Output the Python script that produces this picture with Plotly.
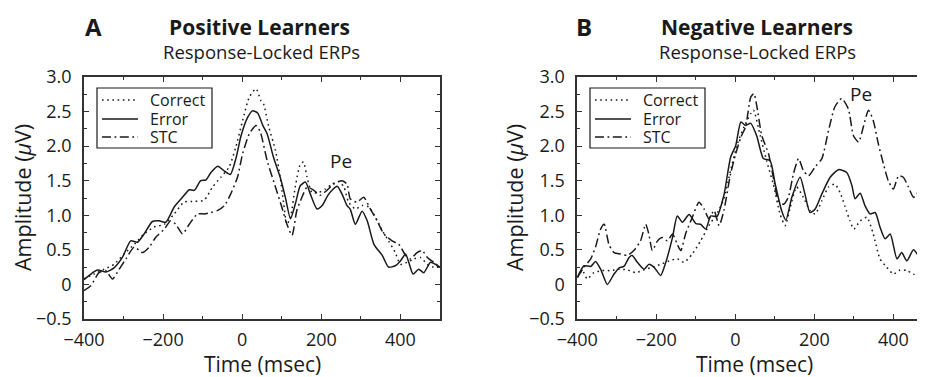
import plotly.graph_objects as go

# ---------------- data ----------------
# Panel A: Positive Learners
pos_err_t = [-400, -366, -345, -324, -303, -282, -265, -248, -227, -210, -193, -172, -151, -134, -121, -105, -92, -79, -62, -45, -30, -16, -3, 14, 26, 39, 52,
             63, 79, 96, 109, 122, 134, 147, 160, 172, 189, 202, 219, 240, 252, 265, 273, 286, 303, 316, 333, 354, 370, 387, 400, 413, 421, 432, 446, 459, 476, 489, 500]
pos_err_v = [0.07, 0.21, 0.18, 0.24, 0.39, 0.63, 0.61, 0.73, 0.91, 0.92, 0.90, 1.12, 1.26, 1.37, 1.36, 1.50, 1.51, 1.62, 1.71, 1.64, 1.59, 1.82, 2.15, 2.42, 2.51, 2.48, 2.30,
             2.18, 1.84, 1.55, 1.26, 0.95, 1.16, 1.43, 1.48, 1.31, 1.09, 1.14, 1.31, 1.42, 1.31, 1.14, 1.09, 0.87, 1.06, 0.92, 0.58, 0.42, 0.25, 0.27, 0.34, 0.44, 0.32, 0.15, 0.22, 0.17, 0.32, 0.29, 0.25]

pos_cor_t = [-400, -375, -349, -324, -299, -273, -248, -223, -197, -172, -147, -121, -96, -75, -54, -33, -16, 1, 18, 35, 47,
             54, 67, 84, 96, 105, 113, 122, 134, 147, 155, 164, 176, 193, 210, 227, 244, 257, 269, 286, 303, 320, 337, 354, 370, 387, 400, 417, 434, 451, 468, 484, 500]
pos_cor_v = [0.08, 0.15, 0.22, 0.29, 0.44, 0.58, 0.73, 0.83, 0.87, 1.02, 1.19, 1.20, 1.22, 1.41, 1.55, 1.70, 1.99, 2.37, 2.71, 2.83, 2.66,
             2.61, 2.28, 1.94, 1.55, 1.16, 0.87, 0.97, 1.41, 1.74, 1.77, 1.55, 1.33, 1.33, 1.38, 1.45, 1.49, 1.41, 1.19, 1.09, 1.14, 1.12, 0.97, 0.78, 0.63, 0.46, 0.29, 0.32, 0.37, 0.39, 0.29, 0.25, 0.27]

pos_stc_t = [-400, -383, -362, -345, -328, -311, -294, -273, -252, -235, -219, -197, -181, -168, -151, -134, -113, -96, -79, -62, -45, -29, -12, 1, 18, 35, 46,
             63, 84, 100, 113, 126, 138, 151, 164, 181, 197, 214, 231, 252, 265, 273, 290, 307, 324, 341, 358, 379, 396, 413, 425, 442, 455, 468, 484, 500]
pos_stc_v = [-0.09, -0.02, 0.17, 0.20, 0.08, 0.22, 0.37, 0.54, 0.46, 0.54, 0.68, 0.80, 0.92, 0.87, 0.73, 0.87, 1.02, 1.02, 1.04, 1.07, 1.14, 1.31, 1.55, 1.89, 2.18, 2.30, 2.20,
             1.79, 1.41, 1.12, 0.87, 0.71, 1.07, 1.26, 1.41, 1.36, 1.29, 1.36, 1.45, 1.50, 1.45, 1.24, 1.19, 1.26, 1.09, 0.92, 0.73, 0.63, 0.58, 0.42, 0.37, 0.46, 0.49, 0.39, 0.32, 0.25]

# Panel B: Negative Learners
neg_err_t = [-400, -383, -366, -354, -341, -324, -307, -294, -282, -269, -261, -248, -231, -219, -206, -189, -176, -159, -147, -134, -117, -100, -88, -75, -62, -47, -29, -12, 1, 14, 26, 39, 54,
             71, 88, 101, 117, 128, 143, 164, 176, 189, 202, 219, 240, 261, 282, 295, 303, 316, 328, 341, 354, 366, 379, 392, 409, 421, 434, 451, 468, 480]
neg_err_v = [0.10, 0.27, 0.26, 0.33, 0.22, 0.00, 0.15, 0.24, 0.26, 0.39, 0.42, 0.32, 0.22, 0.29, 0.25, 0.13, 0.32, 0.68, 0.99, 0.90, 1.01, 0.88, 0.87, 0.80, 0.99, 0.98, 1.29, 1.84, 2.01, 2.35, 2.30, 2.33, 2.15,
             1.82, 1.79, 1.45, 1.07, 0.93, 1.26, 1.55, 1.31, 1.04, 1.09, 1.31, 1.55, 1.66, 1.62, 1.43, 1.24, 1.32, 1.14, 1.02, 1.04, 0.83, 0.66, 0.73, 0.37, 0.46, 0.34, 0.50, 0.39, 0.46]

neg_cor_t = [-400, -387, -375, -358, -337, -316, -294, -273, -252, -231, -210, -189, -168, -147, -130, -109, -88, -67, -45, -29, -12, 5, 22, 39, 46,
             63, 79, 96, 113, 126, 138, 155, 172, 189, 202, 219, 236, 252, 265, 278, 290, 300, 316, 333, 349, 366, 383, 400, 417, 434, 451, 468, 480]
neg_cor_v = [0.10, 0.20, 0.08, 0.17, 0.20, 0.20, 0.22, 0.21, 0.17, 0.21, 0.25, 0.29, 0.34, 0.37, 0.32, 0.44, 0.63, 0.85, 1.04, 1.24, 1.65, 2.03, 2.28, 2.47, 2.52,
             2.15, 1.79, 1.45, 1.02, 0.85, 1.09, 1.41, 1.26, 1.07, 1.02, 1.21, 1.41, 1.45, 1.33, 1.12, 0.92, 0.80, 0.92, 0.97, 0.73, 0.37, 0.25, 0.15, 0.21, 0.20, 0.15, 0.08, 0.00]

neg_stc_t = [-400, -383, -366, -354, -341, -332, -320, -307, -290, -273, -257, -240, -227, -219, -210, -197, -185, -172, -159, -147, -138, -126, -109, -92, -79, -67, -54, -41, -29, -12, 1, 14, 26, 39, 47,
             54, 67, 84, 96, 109, 122, 134, 147, 160, 172, 185, 202, 219, 236, 252, 269, 286, 299, 312, 324, 337, 349, 362, 375, 387, 400, 413, 425, 438, 451, 463, 480]
neg_stc_v = [0.10, 0.25, 0.37, 0.54, 0.80, 0.87, 0.58, 0.46, 0.44, 0.42, 0.49, 0.63, 0.87, 0.73, 0.49, 0.63, 0.68, 0.63, 0.73, 0.58, 0.49, 0.73, 0.97, 1.19, 1.09, 0.95, 1.07, 0.85, 1.07, 1.60, 1.89, 2.13, 2.28, 2.71, 2.76,
             2.59, 2.15, 1.89, 1.55, 1.21, 1.16, 1.26, 1.60, 1.82, 1.65, 1.57, 1.70, 1.82, 2.23, 2.57, 2.69, 2.54, 2.15, 2.06, 2.28, 2.52, 2.37, 2.03, 1.74, 1.50, 1.38, 1.57, 1.55, 1.41, 1.26, 1.33, 1.36]

series_names = ["Correct", "Error", "STC"]
x_tickvals = [-400, -200, 0, 200, 400]
x_ticktext = ["\u2212400", "\u2212200", "0", "200", "400"]
y_tickvals = [-0.5, 0, 0.5, 1.0, 1.5, 2.0, 2.5, 3.0]
y_ticktext = ["\u22120.5", "0", "0.5", "1.0", "1.5", "2.0", "2.5", "3.0"]

# ---------------- figure ----------------
FONT = "Open Sans"
INK = "#1a1a1a"
AX = "#333333"
OFF = 8                      # page body margin of the browser
W, H = 925 - OFF, 377 - OFF  # figure size so that it fits the window

def px(x):   # reference pixel x -> paper fraction
    return (x - OFF) / W

def py(y):   # reference pixel y -> paper fraction
    return 1 - (y - OFF) / H

dashes = {"Correct": "1.6px,3.6px", "Error": "solid", "STC": "9px,3.5px,1.8px,3.5px"}

fig = go.Figure()
panels = [
    ("x", "y", [(pos_cor_t, pos_cor_v), (pos_err_t, pos_err_v), (pos_stc_t, pos_stc_v)]),
    ("x2", "y2", [(neg_cor_t, neg_cor_v), (neg_err_t, neg_err_v), (neg_stc_t, neg_stc_v)]),
]
for xa, ya, data in panels:
    for name, (t, v) in zip(series_names, data):
        fig.add_trace(go.Scatter(
            x=t, y=v, mode="lines", name=name, xaxis=xa, yaxis=ya, showlegend=False,
            line=dict(color=INK, width=1.5, dash=dashes[name], shape="spline", smoothing=0.6),
        ))

axis_common = dict(showgrid=False, zeroline=False, showline=True, linecolor=AX, linewidth=1.6,
                   ticks="inside", ticklen=5, tickwidth=1.2, tickcolor=AX,
                   tickfont=dict(family=FONT, size=18, color=INK), automargin=False)
xminor = dict(ticks="inside", ticklen=3, tick0=0, dtick=100, tickcolor=AX, tickwidth=1)
yminor = dict(ticks="inside", ticklen=3, tick0=0, dtick=0.25, tickcolor=AX, tickwidth=1)

xl = [px(84), px(440)]
xr = [px(577.3), 1.0]
yd = [py(319), py(77)]

fig.update_layout(
    width=W, height=H, margin=dict(l=0, r=0, t=0, b=0),
    paper_bgcolor="white", plot_bgcolor="white",
    font=dict(family=FONT, color=INK), showlegend=False,
    xaxis=dict(domain=xl, range=[-400, 500], tickmode="array", tickvals=x_tickvals, ticktext=x_ticktext,
               mirror="ticks", anchor="y", ticklabelstandoff=4, minor=xminor, **axis_common),
    yaxis=dict(domain=yd, range=[-0.5, 3.0], tickmode="array", tickvals=y_tickvals, ticktext=y_ticktext,
               mirror="ticks", anchor="x", ticklabelstandoff=7, minor=yminor, **axis_common),
    xaxis2=dict(domain=xr, range=[-400, 480], tickmode="array", tickvals=x_tickvals, ticktext=x_ticktext,
                mirror="ticks", anchor="y2", ticklabelstandoff=4, minor=xminor, **axis_common),
    yaxis2=dict(domain=yd, range=[-0.5, 3.0], tickmode="array", tickvals=y_tickvals, ticktext=y_ticktext,
                mirror=False, anchor="x2", ticklabelstandoff=7, minor=yminor, **axis_common),
)

def ann(text, x, y, size, bold=False, xref="paper", yref="paper", angle=0, xanchor="center"):
    fig.add_annotation(text=("<b>%s</b>" % text) if bold else text, x=x, y=y, xref=xref, yref=yref,
                       showarrow=False, textangle=angle, xanchor=xanchor, yanchor="middle", borderpad=0,
                       font=dict(family=FONT, size=size, color=INK))

# Legends drawn as boxed keys (one per panel)
for dx in (0, 493):
    fig.add_shape(type="rect", xref="paper", yref="paper",
                  x0=px(97 + dx), x1=px(212 + dx), y0=py(148), y1=py(88),
                  line=dict(color=INK, width=1.2), fillcolor="white", layer="above")
    for name, yrow in zip(series_names, (100, 119, 137)):
        fig.add_shape(type="line", xref="paper", yref="paper",
                      x0=px(102 + dx), x1=px(138 + dx), y0=py(yrow), y1=py(yrow),
                      line=dict(color=INK, width=1.5, dash=dashes[name]), layer="above")
        ann(name, px(149 + dx), py(yrow), 16, xanchor="left")

# Panel letters and titles
ann("A", px(93), py(26), 24, bold=True)
ann("Positive Learners", px(259), py(27), 21, bold=True)
ann("Response-Locked ERPs", px(261), py(52), 18.5)
ann("B", px(584), py(26), 24, bold=True)
ann("Negative Learners", px(757), py(27), 21, bold=True)
ann("Response-Locked ERPs", px(757), py(52), 18.5)

# Axis titles
ann("Time (msec)", px(262), py(364), 21)
ann("Time (msec)", px(754), py(364), 21)
ann("Amplitude (<i>\u03bc</i>V)", px(22), py(198), 21.5, angle=-90)
ann("Amplitude (<i>\u03bc</i>V)", px(514), py(198), 21.5, angle=-90)

# Pe labels (data coords)
ann("Pe", 250, 1.78, 19, xref="x", yref="y")
ann("Pe", 317, 2.76, 19, xref="x2", yref="y2")

fig.write_html("out.html")
